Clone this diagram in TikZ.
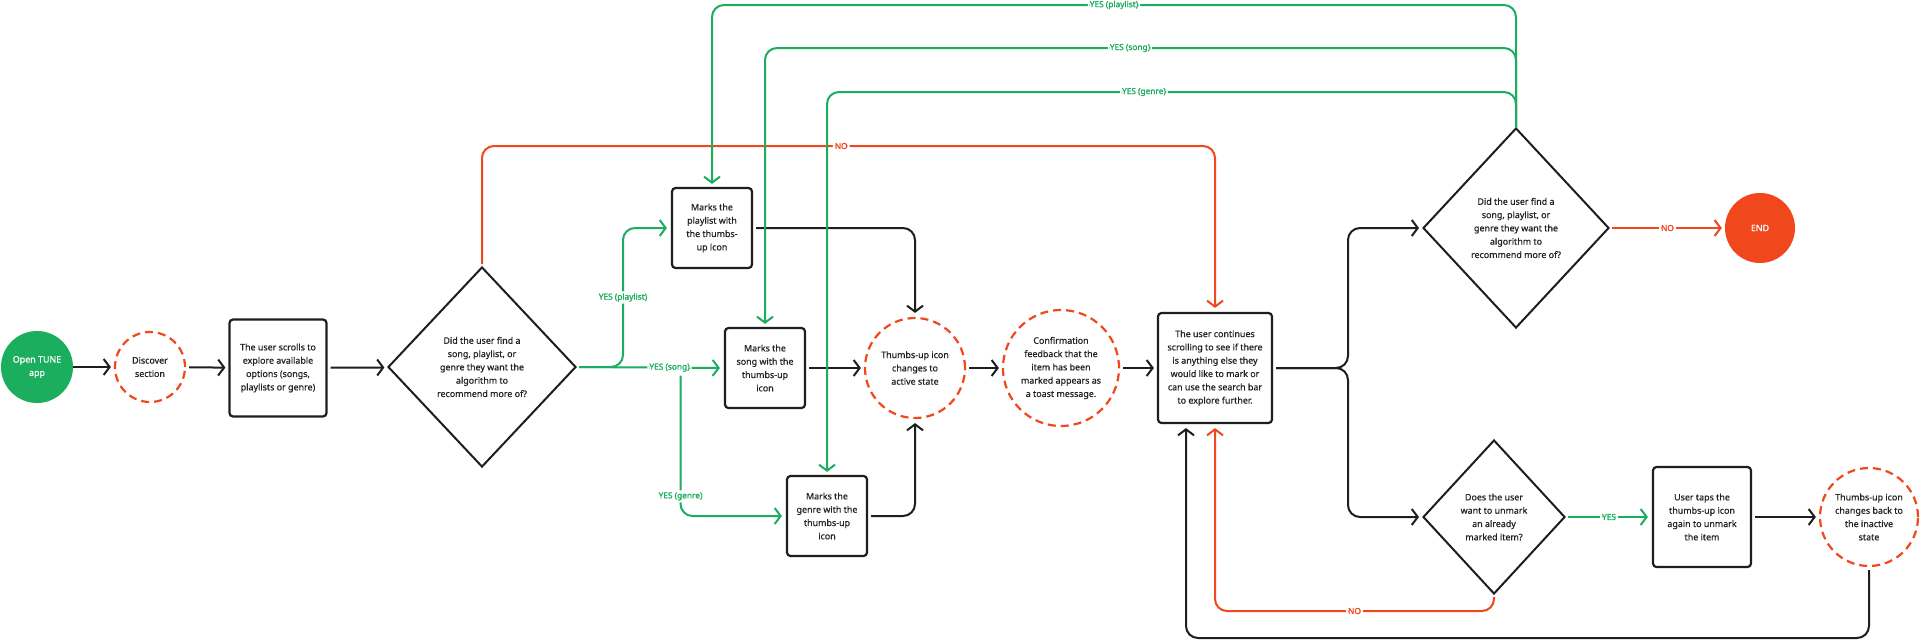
\documentclass[tikz,border=0pt]{standalone}
\usepackage{fontspec}
\setmainfont{Noto Sans}
\newfontfamily\medfont{Noto Sans}[FakeBold=0.6]
\newfontfamily\lblfont{Noto Sans}[FakeBold=1.6]
\usetikzlibrary{arrows.meta,shapes.geometric,calc}
\definecolor{fgreen}{HTML}{1BAE5E}
\definecolor{fred}{HTML}{F1471D}
\definecolor{fline}{HTML}{1E1E1E}
\definecolor{ftext}{HTML}{222222}
\begin{document}
\begin{tikzpicture}[x=1pt,y=-1pt,
  every node/.style={font=\medfont\fontsize{8.9}{13.3}\selectfont, text=ftext, align=center},
  box/.style={draw=fline, line width=2.2pt, rounded corners=3.5pt, inner sep=0pt},
  dcirc/.style={circle, draw=fred, line width=2.2pt, dash pattern=on 8pt off 5pt, inner sep=0pt},
  dia/.style={diamond, draw=fline, line width=2pt, inner sep=0pt},
  solidcirc/.style={circle, inner sep=0pt, text=white},
  flow/.style={draw=fline, line width=2pt, -{Straight Barb[length=6pt,width=16pt]}, rounded corners=12pt},
  yes/.style={flow, draw=fgreen},
  no/.style={flow, draw=fred},
  lbl/.style={fill=white, font=\lblfont\fontsize{8.3}{10}\selectfont, inner sep=2pt},
  ylbl/.style={lbl, text=fgreen},
  nlbl/.style={lbl, text=fred}]
\fill[white] (0,0) rectangle (1920,641);
\useasboundingbox (0,0) rectangle (1920,641);

% nodes
\node[solidcirc, fill=fgreen, minimum size=72pt] (open) at (37,367) {Open TUNE\\app};
\node[dcirc, minimum size=70pt] (disc) at (150,367) {Discover\\section};
\node[box, minimum width=97pt, minimum height=97pt] (scroll) at (278,368) {The user scrolls to\\explore available\\options (songs,\\playlists or genre)};
\node[dia, minimum width=188pt, minimum height=200pt] (d1) at (482,367) {Did the user find a\\song, playlist, or\\genre they want the\\algorithm to\\recommend more of?};
\node[box, minimum size=80pt] (pl) at (712,228) {Marks the\\playlist with\\the thumbs-\\up icon};
\node[box, minimum size=80pt] (song) at (765,368) {Marks the\\song with the\\thumbs-up\\icon};
\node[box, minimum size=80pt] (genre) at (827,516) {Marks the\\genre with the\\thumbs-up\\icon};
\node[dcirc, minimum size=100pt] (thumbs) at (915,368) {Thumbs-up icon\\changes to\\active state};
\node[dcirc, minimum size=116pt] (conf) at (1061,368) {Confirmation\\feedback that the\\item has been\\marked appears as\\a toast message.};
\node[box, minimum width=114pt, minimum height=110pt] (cont) at (1215,368) {The user continues\\scrolling to see if there\\is anything else they\\would like to mark or\\can use the search bar\\to explore further.};
\node[dia, minimum width=186pt, minimum height=200pt] (d2) at (1516,228) {Did the user find a\\song, playlist, or\\genre they want the\\algorithm to\\recommend more of?};
\node[solidcirc, fill=fred, minimum size=70pt] (end) at (1760,228) {END};
\node[dia, minimum width=142pt, minimum height=154pt] (d3) at (1494,517) {Does the user\\want to unmark\\an already\\marked item?};
\node[box, minimum width=98pt, minimum height=100pt] (taps) at (1702,517) {User taps the\\thumbs-up icon\\again to unmark\\the item};
\node[dcirc, minimum size=98pt] (inact) at (1869,517) {Thumbs-up icon\\changes back to\\the inactive\\state};

% helper coordinates
\coordinate (jp) at (623,367);
\coordinate (ty1) at (0,5);
\coordinate (ty2) at (0,48);
\coordinate (ty3) at (0,92);
\coordinate (tn) at (0,146);
\coordinate (bj) at (1348,368);
\coordinate (by) at (0,638);
\coordinate (bn) at (0,611);

% main flow
\draw[flow, shorten >=3pt] (open) -- (disc);
\draw[flow, shorten <=3pt, shorten >=3pt] (disc) -- (scroll);
\draw[flow, shorten <=3pt, shorten >=3pt] (scroll) -- (d1);

% yes branches from d1
\draw[yes, shorten <=2pt, shorten >=4pt] (d1.east) -- node[ylbl, pos=0.63] (ysong) {YES (song)} (song.west);
\draw[yes, shorten <=2pt, shorten >=4pt] (d1.east) -- (jp) |- node[ylbl, pos=0.25] {YES (playlist)} (pl.west);
\draw[yes, shorten >=4pt] ($(ysong.south)+(11,1)$) |- node[ylbl, pos=0.43] {YES (genre)} (genre.west);

% no from d1
\draw[no, shorten <=2pt, shorten >=4pt] (d1.north) |- node[nlbl, pos=0.745] {NO} (cont.north |- tn) -- (cont.north);

% to thumbs
\draw[flow, shorten <=3pt, shorten >=4pt] (pl.east) -| (thumbs.north);
\draw[flow, shorten <=3pt, shorten >=3pt] (song.east) -- (thumbs.west);
\draw[flow, shorten <=3pt, shorten >=4pt] (genre.east) -| (thumbs.south);
\draw[flow, shorten <=3pt, shorten >=3pt] (thumbs.east) -- (conf.west);
\draw[flow, shorten <=3pt, shorten >=3pt] (conf.east) -- (cont.west);

% branch from cont
\draw[flow, shorten <=3pt, shorten >=3pt] (cont.east) -- (bj) |- (d2.west);
\draw[flow, shorten <=3pt, shorten >=3pt] (cont.east) -- (bj) |- (d3.west);

% yes loops from d2
\draw[yes, shorten >=3pt] (d2.north) |- node[ylbl, pos=0.75] {YES (playlist)} (pl.north |- ty1) -- (pl.north);
\draw[yes, shorten >=3pt] (d2.north) |- node[ylbl, pos=0.757] {YES (song)} (song.north |- ty2) -- (song.north);
\draw[yes, shorten >=3pt] (d2.north) |- node[ylbl, pos=0.77] {YES (genre)} (genre.north |- ty3) -- (genre.north);

% d2 no -> end
\draw[no, shorten <=2pt, shorten >=3pt] (d2.east) -- node[nlbl] {NO} (end.west);

% d3
\draw[yes, shorten <=2pt, shorten >=4pt] (d3.east) -- node[ylbl] {YES} (taps.west);
\draw[flow, shorten <=3pt, shorten >=3pt] (taps.east) -- (inact.west);
\draw[flow, shorten <=3pt, shorten >=4pt] (inact.south) |- ([xshift=-29pt]cont.south |- by) -- ([xshift=-29pt]cont.south);
\draw[no, shorten <=2pt, shorten >=4pt] (d3.south) |- node[nlbl, pos=0.75] {NO} (cont.south |- bn) -- (cont.south);
\end{tikzpicture}
\end{document}
